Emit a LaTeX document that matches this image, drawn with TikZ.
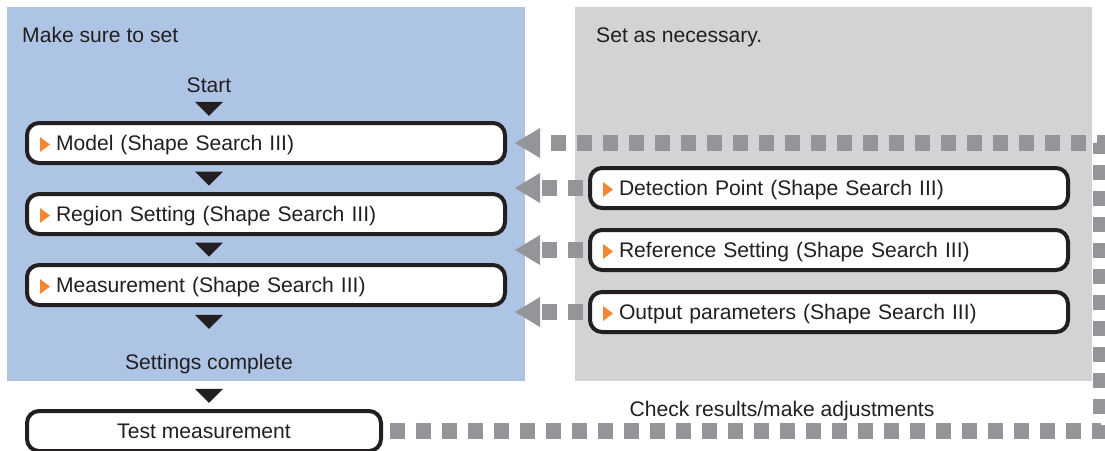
\documentclass[tikz,border=0pt]{standalone}
\usepackage{fontspec}
\setmainfont{Liberation Sans}
\usetikzlibrary{arrows.meta, calc}
\definecolor{must}  {HTML}{AEC4E5}
\definecolor{option}{HTML}{D1D3D4}
\definecolor{loop}  {HTML}{939598}
\definecolor{marker}{HTML}{F58634}
\definecolor{ink}   {HTML}{231F20}

\begin{document}
\begin{tikzpicture}[x=1pt, y=-1pt,
  % One pt per pixel of the 1105 x 450 sheet, y running downwards so the
  % numbers below can be read straight off the layout.
  every node/.style={font=\fontsize{21.1}{26}\selectfont, text=ink},
  stepbox/.style={
    draw=ink, fill=white, line width=4pt, rounded corners=12pt,
    minimum height=40pt, text width=420pt, inner xsep=29pt, align=left,
    text height=15.2pt, text depth=0pt
  },
  testbox/.style={draw=ink, fill=white, line width=4pt, rounded corners=12pt,
                  minimum height=40pt, minimum width=354pt,
                  text height=15.2pt, text depth=0pt},
  caption/.style={inner sep=0pt},
  feedback/.style={draw=loop, line width=16pt, dash pattern=on 15pt off 11pt,
    shorten >=8pt, -{Triangle[length=25pt, width=30pt, line width=0pt]}}
]

\path[use as bounding box] (0,0) rectangle (1105,450);
\clip (0,0) rectangle (1105,450);

% --- the two panels ------------------------------------------------------------
\fill[must]   (7,7)   rectangle (525,381);
\fill[option] (575,7) rectangle (1092,381);

\node[caption, anchor=base west] (mustlabel) at (22,42)  {Make sure to set};
\node[caption, anchor=base west] (optlabel)  at (596,42) {Set as necessary.};

% --- required steps, top to bottom ----------------------------------------------
\node[caption, anchor=base] (start) at (209,92) {Start};
\node[stepbox] (model)  at (266,143) {Model (Shape Search III)};
\node[stepbox] (region) at (266,214) {Region Setting (Shape Search III)};
\node[stepbox] (meas)   at (266,285) {Measurement (Shape Search III)};
\node[caption, anchor=base] (done) at (209,369) {Settings complete};
\node[testbox] (test)   at (204,431) {Test measurement};

% --- optional steps ----------------------------------------------------------------
\node[stepbox] (detect) at (829,188) {Detection Point (Shape Search III)};
\node[stepbox] (ref)    at (829,250) {Reference Setting (Shape Search III)};
\node[stepbox] (out)    at (829,312) {Output parameters (Shape Search III)};

% --- down tips between the required steps, all on the Start axis -----------------------
\coordinate (axis) at (209,0);
\foreach \a/\b/\f in {start/model/.58, model/region/.5, region/meas/.5,
                      meas/done/.32, done/test/.63}{
  \path ($(\a.south)!\f!(\b.north)$) coordinate (tipc);
  \fill[ink] (tipc -| axis) ++(-14,-7) -- ++(28,0) -- ++(-14,14) -- cycle;
}

% --- orange markers -------------------------------------------------------------------
\foreach \n in {model, region, meas, detect, ref, out}
  \fill[marker] ([xshift=15pt, yshift=-1.5pt]\n.west) ++(0,-7.5) -- ++(0,15) -- ++(10,-7.5) -- cycle;

% --- feedback loop back from the test ----------------------------------------------------
\coordinate (rail) at (1101,0);
\draw[feedback, shorten <=7pt] (test.east) -- (test.east -| rail)
  -- (model.east -| rail) -- (model.east);
\foreach \n in {detect, ref, out}
  \draw[feedback, shorten <=5pt] (\n.west) -- (\n.west -| model.east);

\node[caption, anchor=base] (check) at (782,416) {Check results/make adjustments};

\end{tikzpicture}
\end{document}
